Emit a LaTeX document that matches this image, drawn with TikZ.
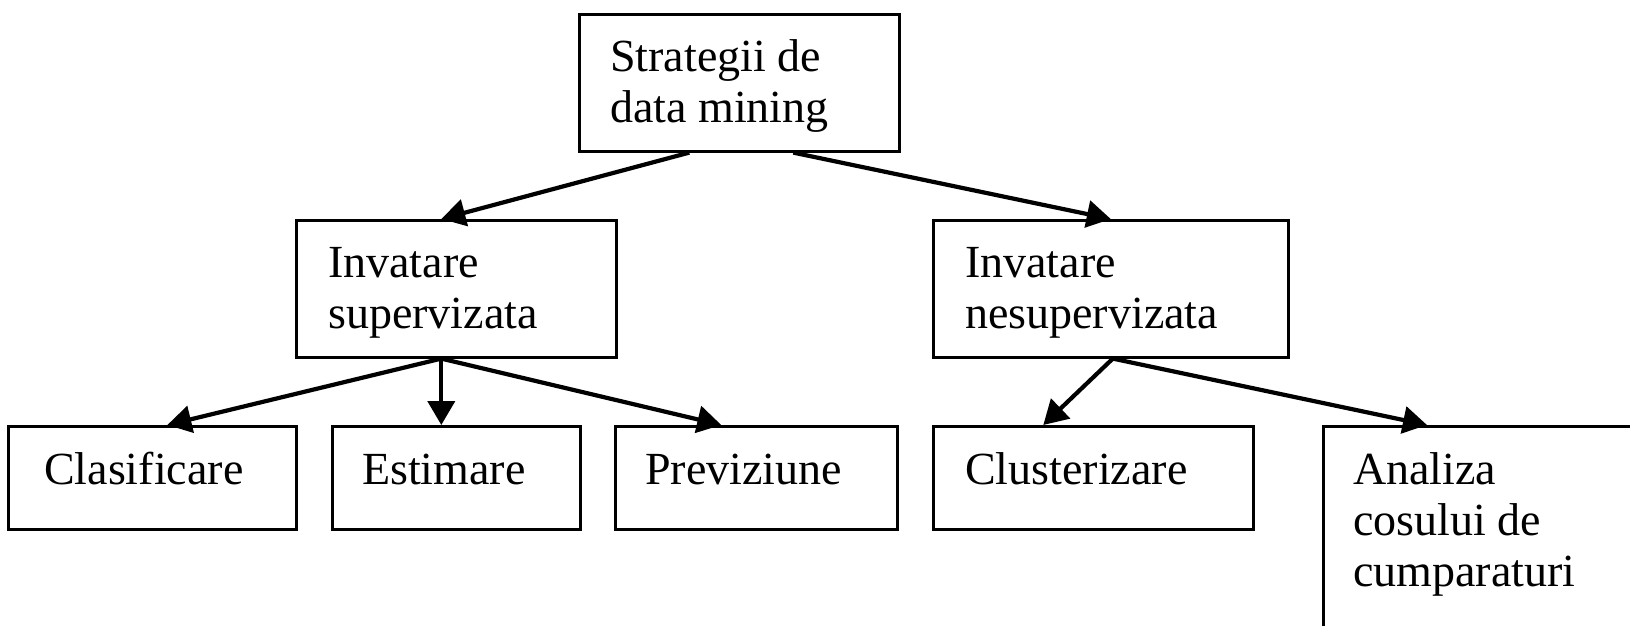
\documentclass[tikz,border=0pt]{standalone}
\usepackage{fontspec}
\setmainfont{Liberation Serif}
\usetikzlibrary{arrows.meta,calc}
\begin{document}
\begin{tikzpicture}[x=1pt,y=-1pt,
  box/.style={draw,line width=2.6pt,inner sep=0pt,anchor=north west},
  lbl/.style={anchor=base west,inner sep=0pt,font=\fontsize{46}{51}\selectfont,align=left},
  arr/.style={line width=4.2pt,-{Triangle[length=24pt,width=27pt]}}]
\clip (0,0) rectangle (1630,626);
\fill[white] (0,0) rectangle (1630,626);
% boxes
\node[box,minimum width=320pt,minimum height=137pt] (top) at (578,13) {};
\node[box,minimum width=320pt,minimum height=137pt] (sup) at (295,219) {};
\node[box,minimum width=355pt,minimum height=137pt] (nesup) at (932,219) {};
\node[box,minimum width=288pt,minimum height=103pt] (clas) at (7,425) {};
\node[box,minimum width=248pt,minimum height=103pt] (est) at (331,425) {};
\node[box,minimum width=282pt,minimum height=103pt] (prev) at (614,425) {};
\node[box,minimum width=320pt,minimum height=103pt] (clu) at (932,425) {};
\node[box,minimum width=340pt,minimum height=240pt] (ana) at (1322,425) {};
% texts (base anchor = baseline of the last line)
\node[lbl] (ttop) at (610,122) {Strategii de\\data mining};
\node[lbl] (tsup) at (328,328) {Invatare\\supervizata};
\node[lbl] (tnesup) at (965,328) {Invatare\\nesupervizata};
\node[lbl] (tclas) at (44,484) {Clasificare};
\node[lbl] (test) at (362,484) {Estimare};
\node[lbl] (tprev) at (645,484) {Previziune};
\node[lbl] (tclu) at (965,484) {Clusterizare};
\node[lbl] (tana) at (1353,586) {Analiza\\cosului de\\cumparaturi};
% connectors
\draw[arr] ($(top.south)+(-50,0)$) -- ($(sup.north)+(-15,0)$);
\draw[arr] ($(top.south)+(54,0)$) -- (nesup.north);
\draw[arr] ($(sup.south)+(-15,0)$) -- ($(clas.north)+(15,0)$);
\draw[arr] ($(sup.south)+(-15,0)$) -- ($(est.north)+(-15,0)$);
\draw[arr] ($(sup.south)+(-15,0)$) -- ($(prev.north)+(-35,0)$);
\draw[arr] ($(nesup.south)+(2,0)$) -- ($(clu.north)+(-50,0)$);
\draw[arr] ($(nesup.south)+(2,0)$) -- ($(ana.north west)+(105,0)$);
\end{tikzpicture}
\end{document}
